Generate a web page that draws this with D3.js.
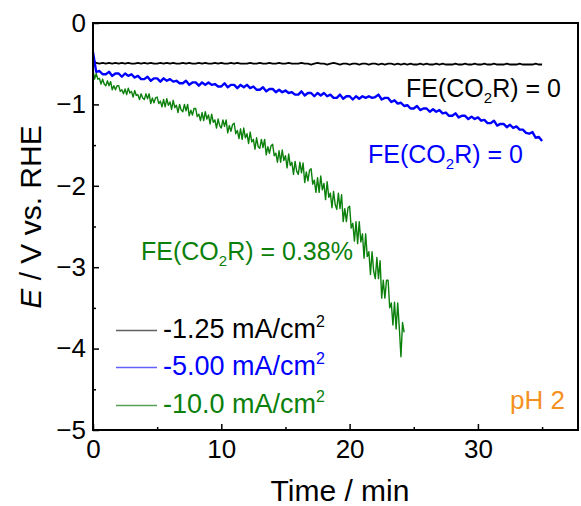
<!DOCTYPE html>
<html>
<head>
<meta charset="utf-8">
<script src="https://cdn.jsdelivr.net/npm/d3@7"></script>
<style>
  body { margin: 0; background: #fff; }
  svg { display: block; font-family: "Liberation Sans", Arial, sans-serif; }
</style>
</head>
<body>
<svg id="chart" width="581" height="506"></svg>
<script>
// time axis (min) for the two long runs, every 0.25 min
const minutes = [
  0, 0.25, 0.5, 0.75, 1, 1.25, 1.5, 1.75,
  2, 2.25, 2.5, 2.75, 3, 3.25, 3.5, 3.75,
  4, 4.25, 4.5, 4.75, 5, 5.25, 5.5, 5.75,
  6, 6.25, 6.5, 6.75, 7, 7.25, 7.5, 7.75,
  8, 8.25, 8.5, 8.75, 9, 9.25, 9.5, 9.75,
  10, 10.25, 10.5, 10.75, 11, 11.25, 11.5, 11.75,
  12, 12.25, 12.5, 12.75, 13, 13.25, 13.5, 13.75,
  14, 14.25, 14.5, 14.75, 15, 15.25, 15.5, 15.75,
  16, 16.25, 16.5, 16.75, 17, 17.25, 17.5, 17.75,
  18, 18.25, 18.5, 18.75, 19, 19.25, 19.5, 19.75,
  20, 20.25, 20.5, 20.75, 21, 21.25, 21.5, 21.75,
  22, 22.25, 22.5, 22.75, 23, 23.25, 23.5, 23.75,
  24, 24.25, 24.5, 24.75, 25, 25.25, 25.5, 25.75,
  26, 26.25, 26.5, 26.75, 27, 27.25, 27.5, 27.75,
  28, 28.25, 28.5, 28.75, 29, 29.25, 29.5, 29.75,
  30, 30.25, 30.5, 30.75, 31, 31.25, 31.5, 31.75,
  32, 32.25, 32.5, 32.75, 33, 33.25, 33.5, 33.75,
  34, 34.25, 34.5, 34.75, 35
];

// time axis (min) for the -10 mA/cm2 run, every 0.125 min
const minutesFine = [
  0, 0.125, 0.25, 0.375, 0.5, 0.625, 0.75, 0.875,
  1, 1.125, 1.25, 1.375, 1.5, 1.625, 1.75, 1.875,
  2, 2.125, 2.25, 2.375, 2.5, 2.625, 2.75, 2.875,
  3, 3.125, 3.25, 3.375, 3.5, 3.625, 3.75, 3.875,
  4, 4.125, 4.25, 4.375, 4.5, 4.625, 4.75, 4.875,
  5, 5.125, 5.25, 5.375, 5.5, 5.625, 5.75, 5.875,
  6, 6.125, 6.25, 6.375, 6.5, 6.625, 6.75, 6.875,
  7, 7.125, 7.25, 7.375, 7.5, 7.625, 7.75, 7.875,
  8, 8.125, 8.25, 8.375, 8.5, 8.625, 8.75, 8.875,
  9, 9.125, 9.25, 9.375, 9.5, 9.625, 9.75, 9.875,
  10, 10.125, 10.25, 10.375, 10.5, 10.625, 10.75, 10.875,
  11, 11.125, 11.25, 11.375, 11.5, 11.625, 11.75, 11.875,
  12, 12.125, 12.25, 12.375, 12.5, 12.625, 12.75, 12.875,
  13, 13.125, 13.25, 13.375, 13.5, 13.625, 13.75, 13.875,
  14, 14.125, 14.25, 14.375, 14.5, 14.625, 14.75, 14.875,
  15, 15.125, 15.25, 15.375, 15.5, 15.625, 15.75, 15.875,
  16, 16.125, 16.25, 16.375, 16.5, 16.625, 16.75, 16.875,
  17, 17.125, 17.25, 17.375, 17.5, 17.625, 17.75, 17.875,
  18, 18.125, 18.25, 18.375, 18.5, 18.625, 18.75, 18.875,
  19, 19.125, 19.25, 19.375, 19.5, 19.625, 19.75, 19.875,
  20, 20.125, 20.25, 20.375, 20.5, 20.625, 20.75, 20.875,
  21, 21.125, 21.25, 21.375, 21.5, 21.625, 21.75, 21.875,
  22, 22.125, 22.25, 22.375, 22.5, 22.625, 22.75, 22.875,
  23, 23.125, 23.25, 23.375, 23.5, 23.625, 23.75, 23.875,
  24, 24.125, 24.25
];

// E (V vs. RHE) at -1.25 mA/cm2
const potential125 = [
  -0.46, -0.49, -0.50, -0.49, -0.50, -0.49, -0.50, -0.49,
  -0.50, -0.49, -0.50, -0.49, -0.50, -0.50, -0.49, -0.50,
  -0.49, -0.50, -0.49, -0.50, -0.50, -0.49, -0.50, -0.49,
  -0.50, -0.49, -0.50, -0.50, -0.49, -0.50, -0.49, -0.50,
  -0.50, -0.49, -0.50, -0.49, -0.50, -0.50, -0.49, -0.50,
  -0.49, -0.50, -0.50, -0.49, -0.50, -0.49, -0.50, -0.50,
  -0.50, -0.49, -0.50, -0.50, -0.49, -0.50, -0.50, -0.49,
  -0.50, -0.50, -0.49, -0.50, -0.50, -0.49, -0.50, -0.50,
  -0.50, -0.49, -0.50, -0.50, -0.51, -0.50, -0.49, -0.50,
  -0.50, -0.51, -0.50, -0.49, -0.50, -0.51, -0.50, -0.50,
  -0.51, -0.50, -0.50, -0.51, -0.50, -0.50, -0.51, -0.50,
  -0.50, -0.51, -0.50, -0.51, -0.50, -0.50, -0.51, -0.50,
  -0.51, -0.50, -0.51, -0.50, -0.51, -0.51, -0.50, -0.51,
  -0.50, -0.51, -0.51, -0.50, -0.51, -0.50, -0.51, -0.51,
  -0.51, -0.50, -0.51, -0.51, -0.50, -0.51, -0.51, -0.50,
  -0.51, -0.51, -0.50, -0.51, -0.51, -0.50, -0.51, -0.51,
  -0.51, -0.50, -0.51, -0.51, -0.51, -0.50, -0.51, -0.51,
  -0.51, -0.51, -0.50, -0.51, -0.51
];

// E at -5.00 mA/cm2
const potential500 = [
  -0.36, -0.60, -0.59, -0.63, -0.63, -0.60, -0.65, -0.62,
  -0.62, -0.66, -0.62, -0.65, -0.63, -0.67, -0.65, -0.69,
  -0.69, -0.66, -0.71, -0.68, -0.68, -0.72, -0.68, -0.71,
  -0.69, -0.72, -0.71, -0.74, -0.74, -0.71, -0.76, -0.73,
  -0.73, -0.77, -0.73, -0.76, -0.73, -0.76, -0.75, -0.78,
  -0.78, -0.74, -0.79, -0.76, -0.76, -0.80, -0.76, -0.79,
  -0.76, -0.80, -0.78, -0.82, -0.82, -0.79, -0.84, -0.81,
  -0.81, -0.85, -0.82, -0.85, -0.83, -0.86, -0.85, -0.88,
  -0.88, -0.84, -0.89, -0.86, -0.86, -0.90, -0.86, -0.89,
  -0.86, -0.90, -0.88, -0.92, -0.92, -0.88, -0.93, -0.90,
  -0.90, -0.94, -0.90, -0.93, -0.90, -0.92, -0.90, -0.92,
  -0.91, -0.88, -0.94, -0.92, -0.92, -0.97, -0.95, -0.99,
  -0.98, -1.02, -1.01, -1.05, -1.05, -1.02, -1.07, -1.05,
  -1.05, -1.09, -1.06, -1.09, -1.07, -1.11, -1.10, -1.14,
  -1.14, -1.11, -1.16, -1.14, -1.14, -1.18, -1.15, -1.18,
  -1.16, -1.20, -1.19, -1.23, -1.23, -1.20, -1.26, -1.24,
  -1.24, -1.28, -1.25, -1.29, -1.27, -1.31, -1.31, -1.35,
  -1.36, -1.34, -1.41, -1.40, -1.45
];

// E at -10.0 mA/cm2 (stops at 24.25 min)
const potential100 = [
  -0.58, -0.69, -0.62, -0.69, -0.68, -0.75, -0.69, -0.75,
  -0.77, -0.71, -0.77, -0.72, -0.82, -0.77, -0.82, -0.77,
  -0.77, -0.84, -0.82, -0.87, -0.81, -0.88, -0.80, -0.86,
  -0.84, -0.91, -0.83, -0.89, -0.88, -0.94, -0.87, -0.92,
  -0.94, -0.87, -0.93, -0.87, -0.99, -0.92, -0.98, -0.92,
  -0.91, -0.99, -0.96, -1.03, -0.94, -1.03, -0.93, -1.01,
  -0.97, -1.06, -0.95, -1.04, -1.01, -1.10, -1.00, -1.07,
  -1.09, -1.00, -1.08, -1.00, -1.14, -1.07, -1.13, -1.05,
  -1.05, -1.15, -1.12, -1.20, -1.10, -1.20, -1.09, -1.18,
  -1.13, -1.24, -1.12, -1.22, -1.19, -1.29, -1.18, -1.26,
  -1.29, -1.19, -1.27, -1.19, -1.35, -1.26, -1.33, -1.25,
  -1.23, -1.36, -1.32, -1.42, -1.30, -1.43, -1.29, -1.41,
  -1.36, -1.48, -1.34, -1.46, -1.43, -1.55, -1.41, -1.52,
  -1.54, -1.43, -1.53, -1.43, -1.62, -1.52, -1.60, -1.51,
  -1.49, -1.63, -1.60, -1.71, -1.57, -1.71, -1.56, -1.69,
  -1.63, -1.78, -1.61, -1.75, -1.71, -1.86, -1.70, -1.82,
  -1.86, -1.71, -1.84, -1.72, -1.96, -1.83, -1.94, -1.81,
  -1.79, -1.98, -1.93, -2.08, -1.90, -2.08, -1.88, -2.05,
  -1.97, -2.17, -1.95, -2.14, -2.09, -2.27, -2.07, -2.23,
  -2.29, -2.09, -2.28, -2.11, -2.44, -2.28, -2.44, -2.27,
  -2.25, -2.52, -2.46, -2.68, -2.44, -2.71, -2.44, -2.69,
  -2.59, -2.89, -2.59, -2.87, -2.81, -3.09, -2.81, -3.05,
  -3.14, -2.88, -3.14, -2.92, -3.38, -3.16, -3.38, -3.16,
  -3.16, -3.50, -3.44, -3.71, -3.43, -3.76, -3.44, -3.75,
  -4.10, -3.68, -3.80
];

const legendLabels = ["-1.25", "-5.00", "-10.0"];
const feLabels = ["0", "0", "0.38%"];
const xTicks = [0, 10, 20, 30];
const xMinorTicks = [5, 15, 25, 35];
const yTicks = [0, -1, -2, -3, -4, -5];
const yMinorTicks = [-0.5, -1.5, -2.5, -3.5, -4.5];

const colors = ["#000000", "#0000ff", "#0b800b"];
const legendLineColors = ["#606060", "#6060ff", "#55a055"];

const svg = d3.select("#chart");
const plotLeft = 93, plotRight = 578, plotTop = 23, plotBottom = 430;

const x = d3.scaleLinear().domain([0, 37.8]).range([plotLeft, plotRight]);
const y = d3.scaleLinear().domain([-5, 0]).range([plotBottom, plotTop]);

// axes, ticks pointing in
svg.append("g").attr("transform", `translate(0,${plotBottom})`)
  .call(d3.axisBottom(x).tickValues(xTicks).tickSize(-6).tickSizeOuter(0).tickPadding(10));
svg.append("g").attr("transform", `translate(0,${plotBottom})`)
  .call(d3.axisBottom(x).tickValues(xMinorTicks).tickSize(-3).tickSizeOuter(0).tickFormat(""));
svg.append("g").attr("transform", `translate(${plotLeft},0)`)
  .call(d3.axisLeft(y).tickValues(yTicks).tickSize(-6).tickSizeOuter(0).tickPadding(7).tickFormat(d3.format("d")));
svg.append("g").attr("transform", `translate(${plotLeft},0)`)
  .call(d3.axisLeft(y).tickValues(yMinorTicks).tickSize(-3).tickSizeOuter(0).tickFormat(""));

svg.selectAll(".domain").remove();
svg.selectAll(".tick line").attr("stroke", "#000").attr("stroke-width", 1.5);
svg.selectAll(".tick text").attr("font-size", 26).attr("fill", "#000")
  .attr("font-family", "Liberation Sans, Arial, sans-serif");

// traces
const line = d3.line().x(d => x(d[0])).y(d => y(d[1]));
const series = [
  d3.zip(minutes, potential125),
  d3.zip(minutes, potential500),
  d3.zip(minutesFine, potential100)
];
const widths = [1.8, 2.4, 1.4];
[0, 2, 1].forEach(i => {
  svg.append("path")
    .attr("d", line(series[i]))
    .attr("fill", "none")
    .attr("stroke", colors[i])
    .attr("stroke-width", widths[i])
    .attr("stroke-linejoin", "round");
});

// frame
svg.append("rect")
  .attr("x", plotLeft).attr("y", plotTop)
  .attr("width", plotRight - plotLeft).attr("height", plotBottom - plotTop)
  .attr("fill", "none").attr("stroke", "#000").attr("stroke-width", 2);

// axis titles
svg.append("text")
  .attr("x", 340).attr("y", 501)
  .attr("text-anchor", "middle").attr("font-size", 30)
  .text("Time / min");

const yTitle = svg.append("text")
  .attr("transform", "translate(41,217) rotate(-90)")
  .attr("text-anchor", "middle").attr("font-size", 30);
yTitle.append("tspan").attr("font-style", "italic").text("E");
yTitle.append("tspan").text(" / V vs. RHE");

// legend
const legendY = [330.5, 367.5, 405.5];
legendLabels.forEach((lab, i) => {
  svg.append("line")
    .attr("x1", 116).attr("x2", 157)
    .attr("y1", legendY[i]).attr("y2", legendY[i])
    .attr("stroke", legendLineColors[i]).attr("stroke-width", 1.3);
  const t = svg.append("text")
    .attr("x", 163).attr("y", legendY[i] + 7)
    .attr("font-size", 27).attr("fill", colors[i]);
  t.append("tspan").text(lab + " mA/cm");
  t.append("tspan").attr("font-size", 16).attr("dy", -11).text("2");
});

// FE annotations
const feX = [406, 368, 141];
const feY = [97, 163, 260];
feLabels.forEach((val, i) => {
  const t = svg.append("text")
    .attr("x", feX[i]).attr("y", feY[i])
    .attr("font-size", 25).attr("fill", colors[i]);
  t.append("tspan").text("FE(CO");
  t.append("tspan").attr("font-size", 15).attr("dy", 6).text("2");
  t.append("tspan").attr("dy", -6).text("R) = " + val);
});

svg.append("text")
  .attr("x", 565).attr("y", 409)
  .attr("text-anchor", "end").attr("font-size", 26)
  .attr("fill", "#f5901e")
  .text("pH 2");
</script>
</body>
</html>
